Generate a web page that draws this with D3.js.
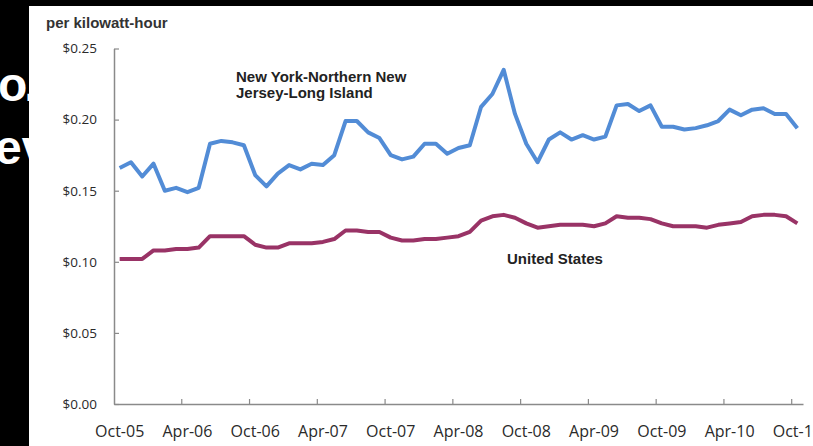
<!DOCTYPE html>
<html>
<head>
<meta charset="utf-8">
<script src="https://cdn.jsdelivr.net/npm/d3@7"></script>
<style>
  html, body { margin: 0; padding: 0; background: #000; }
  svg { display: block; }
</style>
</head>
<body>
<div id="chart"></div>
<script>
// Monthly categories Oct-05 .. Oct-10
const months = d3.timeMonth.range(new Date(2005, 9, 1), new Date(2010, 10, 1))
  .map(d3.timeFormat('%b-%y'))

const tickLabels = ['Oct-05', 'Apr-06', 'Oct-06', 'Apr-07', 'Oct-07', 'Apr-08',
  'Oct-08', 'Apr-09', 'Oct-09', 'Apr-10', 'Oct-10']

const yTicks = [0, 0.05, 0.10, 0.15, 0.20, 0.25]

// New York-Northern New Jersey-Long Island, $ per kWh
const nyValues = [
  0.166, 0.170, 0.160, 0.169, 0.150, 0.152, 0.149, 0.152, 0.183, 0.185, 0.184, 0.182,
  0.161, 0.153, 0.162, 0.168, 0.165, 0.169, 0.168, 0.175, 0.199, 0.199, 0.191, 0.187,
  0.175, 0.172, 0.174, 0.183, 0.183, 0.176, 0.180, 0.182, 0.209, 0.218, 0.235, 0.204,
  0.183, 0.170, 0.186, 0.191, 0.186, 0.189, 0.186, 0.188, 0.210, 0.211, 0.206, 0.210,
  0.195, 0.195, 0.193, 0.194, 0.196, 0.199, 0.207, 0.203, 0.207, 0.208, 0.204, 0.204,
  0.194
]

// United States average
const usValues = [
  0.102, 0.102, 0.102, 0.108, 0.108, 0.109, 0.109, 0.110, 0.118, 0.118, 0.118, 0.118,
  0.112, 0.110, 0.110, 0.113, 0.113, 0.113, 0.114, 0.116, 0.122, 0.122, 0.121, 0.121,
  0.117, 0.115, 0.115, 0.116, 0.116, 0.117, 0.118, 0.121, 0.129, 0.132, 0.133, 0.131,
  0.127, 0.124, 0.125, 0.126, 0.126, 0.126, 0.125, 0.127, 0.132, 0.131, 0.131, 0.130,
  0.127, 0.125, 0.125, 0.125, 0.124, 0.126, 0.127, 0.128, 0.132, 0.133, 0.133, 0.132,
  0.127
]

const width = 813, height = 446

const svg = d3.select('#chart').append('svg')
  .attr('width', width)
  .attr('height', height)

svg.append('rect')
  .attr('width', width).attr('height', height)
  .attr('fill', '#000')

// slide title peeking out behind the chart panel
const title = svg.append('g')
  .attr('fill', '#fff')
  .style('font-family', '"Liberation Sans", Arial, sans-serif')
  .style('font-weight', 'bold')
  .style('font-size', '48px')
title.append('text').attr('x', -2).attr('y', 101).style('letter-spacing', '-3px').text('o.')
title.append('text').attr('x', -5).attr('y', 164).text('ev')

// white chart panel
svg.append('rect')
  .attr('x', 29).attr('y', 6)
  .attr('width', width - 29).attr('height', height - 6)
  .attr('fill', '#fff')

const x = d3.scaleBand()
  .domain(months)
  .range([114, 803])
  .padding(0)

const y = d3.scaleLinear()
  .domain([0, 0.25])
  .range([404, 48.5])

const xc = d => x(d) + x.bandwidth() / 2

// y axis
const yAxis = svg.append('g')
  .attr('transform', 'translate(114,0)')
  .call(d3.axisLeft(y)
    .tickValues(yTicks)
    .tickFormat(d3.format('$.2f'))
    .tickSizeInner(-5)
    .tickSizeOuter(0)
    .tickPadding(17))
yAxis.select('.domain').attr('stroke', '#8a8a8a').attr('stroke-width', 1.5)
yAxis.selectAll('.tick line').attr('stroke', '#8a8a8a').attr('stroke-width', 1.2)
yAxis.selectAll('text')
  .attr('fill', '#2a2a2a')
  .style('font-family', '"Open Sans", sans-serif')
  .style('font-size', '13.5px')

// x axis: labels centred on categories, tick marks between them
const xAxis = svg.append('g')
  .attr('transform', 'translate(0,404)')
  .call(d3.axisBottom(x)
    .tickValues(months.filter(m => tickLabels.includes(m)))
    .tickSize(0)
    .tickPadding(22))
xAxis.select('.domain').attr('stroke', '#8a8a8a').attr('stroke-width', 1.5)
xAxis.selectAll('text')
  .attr('fill', '#2a2a2a')
  .style('font-family', '"Open Sans", sans-serif')
  .style('font-size', '16px')

xAxis.selectAll('.tick-mark')
  .data(months.filter((m, i) => i > 0 && i % 6 === 0))
  .enter()
  .append('line')
  .attr('class', 'tick-mark')
  .attr('x1', d => x(d)).attr('x2', d => x(d))
  .attr('y1', 0).attr('y2', -5)
  .attr('stroke', '#8a8a8a')
  .attr('stroke-width', 1.2)

// series
const line = d3.line()
  .x((d, i) => xc(months[i]))
  .y(d => y(d))

svg.append('path')
  .datum(usValues)
  .attr('d', line)
  .attr('fill', 'none')
  .attr('stroke', '#993366')
  .attr('stroke-width', 4)
  .attr('stroke-linejoin', 'round')

svg.append('path')
  .datum(nyValues)
  .attr('d', line)
  .attr('fill', 'none')
  .attr('stroke', '#528cd6')
  .attr('stroke-width', 4)
  .attr('stroke-linejoin', 'round')

// labels
const labels = svg.append('g')
  .attr('fill', '#222')
  .style('font-family', '"Liberation Sans", Arial, sans-serif')
  .style('font-weight', 'bold')
  .style('font-size', '15px')

labels.append('text').attr('x', 46).attr('y', 28).attr('fill', '#333').text('per kilowatt-hour')
labels.append('text').attr('x', 236).attr('y', 82).text('New York-Northern New')
labels.append('text').attr('x', 236).attr('y', 98).text('Jersey-Long Island')
labels.append('text').attr('x', 507).attr('y', 264).text('United States')
</script>
</body>
</html>
